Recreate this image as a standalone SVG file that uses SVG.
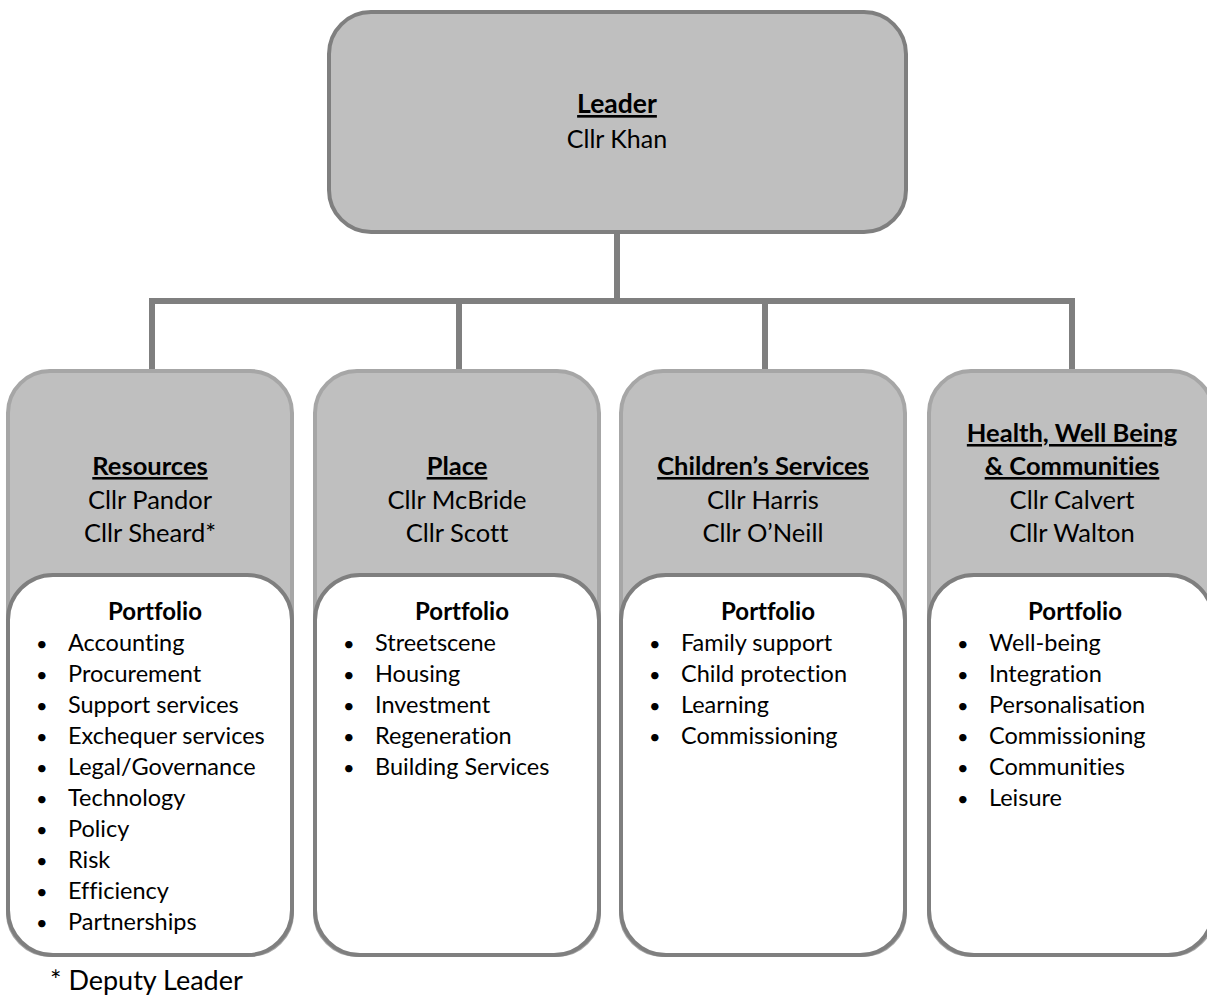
<svg xmlns="http://www.w3.org/2000/svg" width="1207" height="996" viewBox="0 0 1207 996">
<style>
.lead{fill:#bfbfbf;stroke:#7f7f7f;stroke-width:4}
.outer{fill:#bfbfbf;stroke:#a6a6a6;stroke-width:4}
.inner{fill:#ffffff;stroke:#7f7f7f;stroke-width:4}
.conn{fill:none;stroke:#7f7f7f;stroke-width:6;stroke-linejoin:miter}
text{font-family:Lato,"Liberation Sans",sans-serif;fill:#000;font-variant-ligatures:none}
.h{font-size:25.5px;font-weight:bold;text-decoration:underline;text-anchor:middle}
.n{font-size:25.5px;text-anchor:middle}
.hl{font-size:26.5px;font-weight:bold;text-decoration:underline;text-anchor:middle}
.nl{font-size:25px;text-anchor:middle}
.p{font-size:24px;font-weight:bold;text-anchor:middle}
.li{font-size:23.5px}
.b{font-size:20px}
</style>
<g id="connectors">
<path class="conn" d="M152 372 V301 H1072 V372"/>
<path class="conn" d="M617 232 V301 M459 301 V372 M765 301 V372"/>
</g>
<g id="leader">
<rect class="lead" x="329" y="12" width="577" height="220" rx="42"/>
<text class="hl" x="617" y="113">Leader</text>
<text class="nl" x="617" y="148">Cllr Khan</text>
</g>
<g id="resources">
<rect class="outer" x="8" y="371" width="284" height="584" rx="42"/>
<rect class="inner" x="8" y="575" width="284" height="380" rx="45"/>
<text class="h" x="150" y="475">Resources</text>
<text class="n" x="150" y="509">Cllr Pandor</text>
<text class="n" x="150" y="542">Cllr Sheard*</text>
<text class="p" x="155" y="620">Portfolio</text>
<g class="li">
<text class="b" x="36" y="651">•</text><text x="68" y="651">Accounting</text>
<text class="b" x="36" y="682">•</text><text x="68" y="682">Procurement</text>
<text class="b" x="36" y="713">•</text><text x="68" y="713">Support services</text>
<text class="b" x="36" y="744">•</text><text x="68" y="744">Exchequer services</text>
<text class="b" x="36" y="775">•</text><text x="68" y="775">Legal/Governance</text>
<text class="b" x="36" y="806">•</text><text x="68" y="806">Technology</text>
<text class="b" x="36" y="837">•</text><text x="68" y="837">Policy</text>
<text class="b" x="36" y="868">•</text><text x="68" y="868">Risk</text>
<text class="b" x="36" y="899">•</text><text x="68" y="899">Efficiency</text>
<text class="b" x="36" y="930">•</text><text x="68" y="930">Partnerships</text>
</g>
</g>
<g id="place">
<rect class="outer" x="315" y="371" width="284" height="584" rx="42"/>
<rect class="inner" x="315" y="575" width="284" height="380" rx="45"/>
<text class="h" x="457" y="475">Place</text>
<text class="n" x="457" y="509">Cllr McBride</text>
<text class="n" x="457" y="542">Cllr Scott</text>
<text class="p" x="462" y="620">Portfolio</text>
<g class="li">
<text class="b" x="343" y="651">•</text><text x="375" y="651">Streetscene</text>
<text class="b" x="343" y="682">•</text><text x="375" y="682">Housing</text>
<text class="b" x="343" y="713">•</text><text x="375" y="713">Investment</text>
<text class="b" x="343" y="744">•</text><text x="375" y="744">Regeneration</text>
<text class="b" x="343" y="775">•</text><text x="375" y="775">Building Services</text>
</g>
</g>
<g id="childrens">
<rect class="outer" x="621" y="371" width="284" height="584" rx="42"/>
<rect class="inner" x="621" y="575" width="284" height="380" rx="45"/>
<text class="h" x="763" y="475">Children’s Services</text>
<text class="n" x="763" y="509">Cllr Harris</text>
<text class="n" x="763" y="542">Cllr O’Neill</text>
<text class="p" x="768" y="620">Portfolio</text>
<g class="li">
<text class="b" x="649" y="651">•</text><text x="681" y="651">Family support</text>
<text class="b" x="649" y="682">•</text><text x="681" y="682">Child protection</text>
<text class="b" x="649" y="713">•</text><text x="681" y="713">Learning</text>
<text class="b" x="649" y="744">•</text><text x="681" y="744">Commissioning</text>
</g>
</g>
<g id="health">
<rect class="outer" x="929" y="371" width="284" height="584" rx="42"/>
<rect class="inner" x="929" y="575" width="284" height="380" rx="45"/>
<text class="h" x="1072" y="442">Health, Well Being</text>
<text class="h" x="1072" y="475">&amp; Communities</text>
<text class="n" x="1072" y="509">Cllr Calvert</text>
<text class="n" x="1072" y="542">Cllr Walton</text>
<text class="p" x="1075" y="620">Portfolio</text>
<g class="li">
<text class="b" x="957" y="651">•</text><text x="989" y="651">Well-being</text>
<text class="b" x="957" y="682">•</text><text x="989" y="682">Integration</text>
<text class="b" x="957" y="713">•</text><text x="989" y="713">Personalisation</text>
<text class="b" x="957" y="744">•</text><text x="989" y="744">Commissioning</text>
<text class="b" x="957" y="775">•</text><text x="989" y="775">Communities</text>
<text class="b" x="957" y="806">•</text><text x="989" y="806">Leisure</text>
</g>
</g>
<g id="footnote">
<text x="50" y="990" style="font-size:27px">* Deputy Leader</text>
</g>
</svg>
